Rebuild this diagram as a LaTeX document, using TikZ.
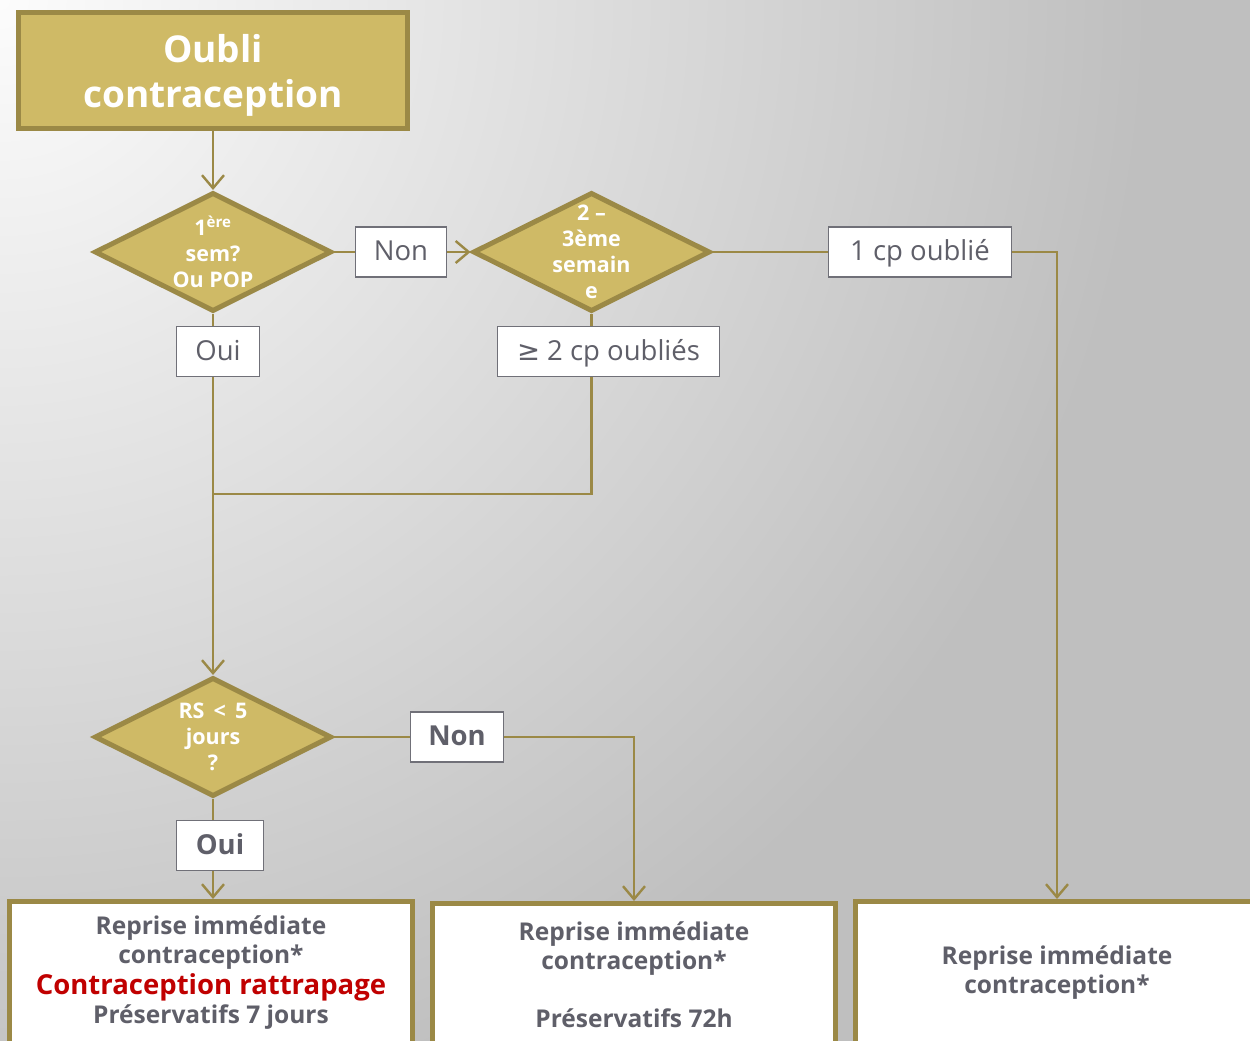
\documentclass[tikz,border=0pt]{standalone}
\usepackage{fontspec}
\setmainfont{Open Sans}
\newfontfamily\symfont{DejaVu Sans}
\usetikzlibrary{shapes.geometric}
\usetikzlibrary{arrows.meta}
\usetikzlibrary{positioning}
\definecolor{gold}{HTML}{CFBA66}
\definecolor{goldline}{HTML}{9B8946}
\definecolor{greytext}{HTML}{5F5F69}
\definecolor{greybox}{HTML}{707078}
\definecolor{alertred}{HTML}{C00000}
\definecolor{bglight}{HTML}{FCFCFC}
\definecolor{bgdark}{HTML}{BFBFBF}
\tikzset{
  titlebox/.style={draw=goldline, line width=5pt, fill=gold, text=white, align=center,
    font=\bfseries\fontsize{37}{45}\selectfont, text depth=0pt, minimum width=389pt, minimum height=116pt},
  question/.style={diamond, draw=goldline, line width=5pt, fill=gold, text=white, align=center,
    font=\bfseries\fontsize{21.5}{26}\selectfont, aspect=2, inner xsep=0pt, inner ysep=-24pt,
    minimum width=237pt, minimum height=119pt},
  answer/.style={draw=greybox, line width=1.6pt, fill=white, text=greytext,
    font=\fontsize{27.5}{30}\selectfont, text height=20pt, text depth=3pt, minimum height=50pt},
  result/.style={draw=goldline, line width=5pt, fill=white, text=greytext, align=center,
    font=\bfseries\fontsize{24.5}{29}\selectfont, minimum width=403pt, minimum height=142pt},
  conn/.style={draw=goldline, line width=2.4pt},
}
\begin{document}
\begin{tikzpicture}[x=1pt, y=-1pt, >={Straight Barb[length=13pt, width=22pt]}]
\useasboundingbox (0,0) rectangle (1250,1041);
\clip (0,0) rectangle (1250,1041);
\fill[bgdark] (0,0) rectangle (1250,1041);
\shade[inner color=bglight, outer color=bgdark] (-1150,-1150) rectangle (1150,1150);

\node[name=title, titlebox] at (213,70.5) {Oubli\\contraception};
\node[name=sem1, question, below of=title, node distance=181.5pt] {1\textsuperscript{ère}\\sem?\\Ou POP};
\node[name=non1, answer, right of=sem1, node distance=188pt, minimum width=91pt] {Non};
\node[name=sem23, question, right of=non1, node distance=190.5pt] {2 –\\3ème\\semain\\e};
\node[name=cp1, answer, right of=sem23, node distance=328.5pt, minimum width=183pt] {1 cp oublié};
\node[name=cp2, answer, below of=sem23, node distance=99.5pt, xshift=17pt, minimum width=222pt] {{\symfont ≥} 2 cp oubliés};
\node[name=oui1, answer, below of=sem1, node distance=99.5pt, xshift=5pt, minimum width=83pt] {Oui};
\node[name=rs, question, below of=sem1, node distance=485pt] {RS \,<\, 5\\jours\\?};
\node[name=non2, answer, right of=rs, node distance=244pt, minimum width=93pt, font=\bfseries\fontsize{27.5}{30}\selectfont] {Non};
\node[name=oui2, answer, below of=rs, node distance=108.5pt, xshift=7pt, minimum width=87pt, font=\bfseries\fontsize{27.5}{30}\selectfont] {Oui};
\node[name=res1, result, below of=oui2, node distance=127pt, xshift=-9pt] {Reprise immédiate\\contraception*\\[2pt]{\color{alertred}\fontsize{27.5}{32}\selectfont Contraception rattrapage}\\Préservatifs 7 jours};
\node[name=res2, result, right of=res1, node distance=423pt, yshift=-2pt] {Reprise immédiate\\contraception*\\[29pt]Préservatifs 72h};
\node[name=res3, result, right of=res2, node distance=423pt, yshift=2pt] {Reprise immédiate\\contraception*};
\coordinate (merge) at (213,494);

\draw[conn, ->] (title.south) -- (sem1.north);
\draw[conn] (sem1.east) -- (non1.west);
\draw[conn, ->] (non1.east) -- (sem23.west);
\draw[conn] (sem23.east) -- (cp1.west);
\draw[conn, ->] (cp1.east) -| (res3.north);
\draw[conn] (sem23.south) -- (sem23.south |- cp2.north);
\draw[conn] (sem23.south |- cp2.south) |- (merge);
\draw[conn] (sem1.south) -- (sem1.south |- oui1.north);
\draw[conn, ->] (sem1.south |- oui1.south) -- (rs.north);
\draw[conn] (rs.east) -- (non2.west);
\draw[conn, ->] (non2.east) -| (res2.north);
\draw[conn] (rs.south) -- (rs.south |- oui2.north);
\draw[conn, ->] (rs.south |- oui2.south) -- (rs.south |- res1.north);
\end{tikzpicture}
\end{document}
